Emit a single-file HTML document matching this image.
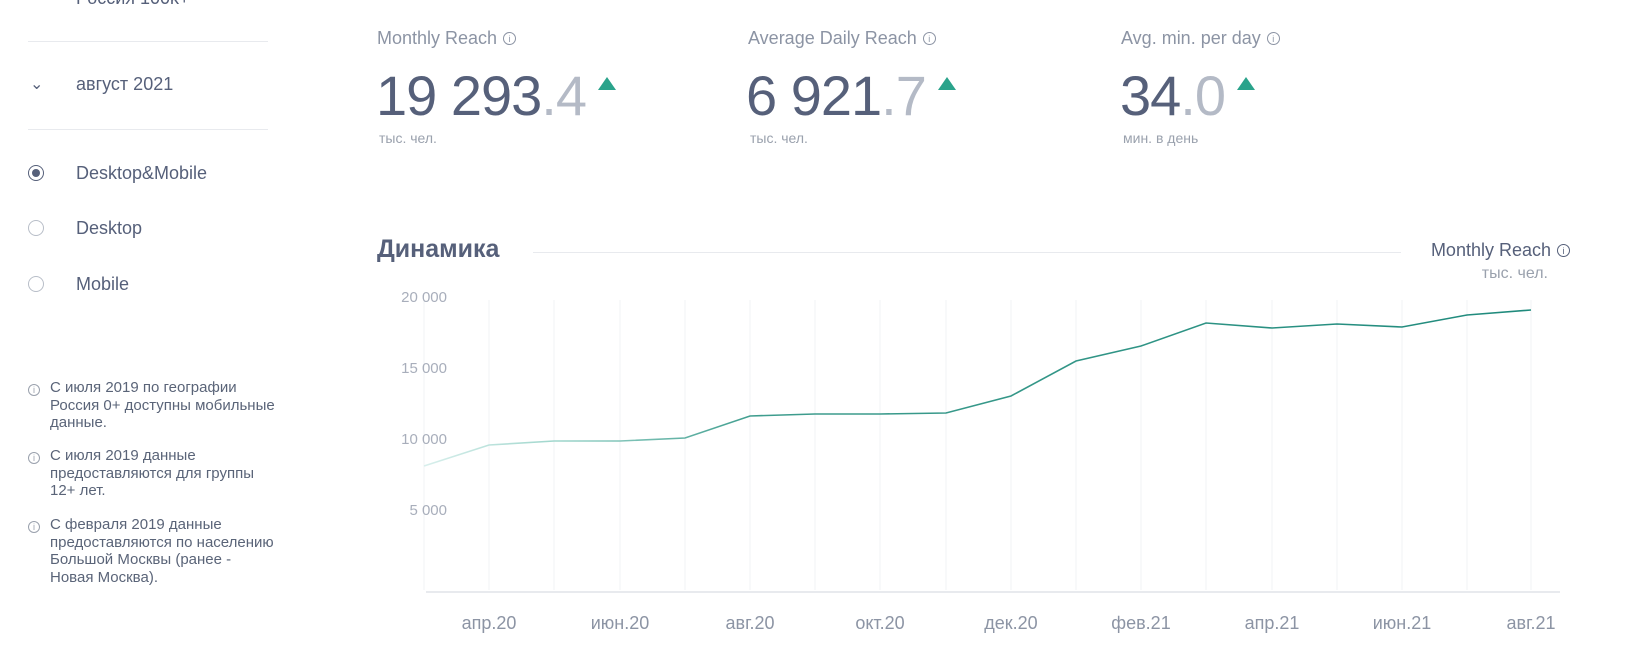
<!DOCTYPE html>
<html><head><meta charset="utf-8"><style>
body{margin:0;width:1630px;height:657px;background:#fff;font-family:"Liberation Sans",sans-serif;color:#5a6478;position:relative;overflow:hidden}
.a{position:absolute;white-space:nowrap}
.sep{position:absolute;left:28px;width:240px;height:1px;background:#e8eaee}
.rad{position:absolute;left:28px;width:16px;height:16px;border:1px solid #b8bec8;border-radius:50%;box-sizing:border-box}
.opt{font-size:18px;color:#56607a;left:76px}
.note{font-size:15px;line-height:17.5px;color:#5a6478;left:50px}
.ic{position:absolute;left:28px;width:12px;height:12px;border:1px solid #9aa1ad;border-radius:50%;box-sizing:border-box;font-size:9px;text-align:center;line-height:11px;color:#9aa1ad}
.lbl{font-size:18px;color:#8c94a4}
.big{font-size:56px;color:#56607a;letter-spacing:-1px}
.big span{color:#b4bac6}
.unit{font-size:14px;color:#9aa1ad}
.tri{display:inline-block;width:0;height:0;border-left:9px solid transparent;border-right:9px solid transparent;border-bottom:13px solid #2aa38b;vertical-align:top;margin-left:12px;margin-top:14px}
.ii{display:inline-block;width:13px;height:13px;border:1px solid #8c94a4;border-radius:50%;font-size:9px;line-height:13px;text-align:center;vertical-align:2px;margin-left:6px;box-sizing:border-box}
</style></head><body>
<div class="a" style="left:76px;top:-12px;font-size:18px;color:#56607a">Россия 100k+</div>
<div class="sep" style="top:41px"></div>
<div class="a" style="left:30px;top:74px;font-size:16px;color:#56607a">⌄</div>
<div class="a opt" style="top:74px">август 2021</div>
<div class="sep" style="top:129px"></div>
<div class="rad" style="top:165px;border:1px solid #56607a"><div style="position:absolute;left:3px;top:3px;width:8px;height:8px;border-radius:50%;background:#56607a"></div></div>
<div class="a opt" style="top:163px">Desktop&amp;Mobile</div>
<div class="rad" style="top:220px"></div>
<div class="a opt" style="top:218px">Desktop</div>
<div class="rad" style="top:276px"></div>
<div class="a opt" style="top:274px">Mobile</div>
<div class="ic" style="top:384px">i</div>
<div class="a note" style="top:379px">С июля 2019 по географии<br>Россия 0+ доступны мобильные<br>данные.</div>
<div class="ic" style="top:452px">i</div>
<div class="a note" style="top:447px">С июля 2019 данные<br>предоставляются для группы<br>12+ лет.</div>
<div class="ic" style="top:521px">i</div>
<div class="a note" style="top:516px">С февраля 2019 данные<br>предоставляются по населению<br>Большой Москвы (ранее -<br>Новая Москва).</div>

<div class="a lbl" style="left:377px;top:28px">Monthly Reach<span class="ii">i</span></div>
<div class="a big" style="left:376px;top:63px">19 293<span>.4</span><i class="tri"></i></div>
<div class="a unit" style="left:379px;top:130px">тыс. чел.</div>
<div class="a lbl" style="left:748px;top:28px">Average Daily Reach<span class="ii">i</span></div>
<div class="a big" style="left:746px;top:63px">6 921<span>.7</span><i class="tri"></i></div>
<div class="a unit" style="left:750px;top:130px">тыс. чел.</div>
<div class="a lbl" style="left:1121px;top:28px">Avg. min. per day<span class="ii">i</span></div>
<div class="a big" style="left:1120px;top:63px">34<span>.0</span><i class="tri"></i></div>
<div class="a unit" style="left:1123px;top:130px">мин. в день</div>

<div class="a" style="left:377px;top:235px;font-size:25px;font-weight:bold;color:#56607a">Динамика</div>
<div style="position:absolute;left:533px;top:252px;width:868px;height:1px;background:#e8eaee"></div>
<div class="a" style="right:60px;top:240px;font-size:18px;color:#56607a">Monthly Reach<span class="ii" style="border-color:#56607a">i</span></div>
<div class="a unit" style="right:82px;top:265px;font-size:16px">тыс. чел.</div>

<svg width="1630" height="657" style="position:absolute;left:0;top:0">
<defs><linearGradient id="g" x1="424" x2="1531" y1="0" y2="0" gradientUnits="userSpaceOnUse">
<stop offset="0" stop-color="#d8efec"/><stop offset="0.12" stop-color="#9fd6cc"/><stop offset="0.3" stop-color="#3f9d8e"/><stop offset="1" stop-color="#1f8a7c"/></linearGradient></defs>
<g stroke="#f2f3f5" stroke-width="1">
<line x1="424" y1="300" x2="424" y2="590"/><line x1="489" y1="300" x2="489" y2="590"/><line x1="554" y1="300" x2="554" y2="590"/><line x1="620" y1="300" x2="620" y2="590"/><line x1="685" y1="300" x2="685" y2="590"/><line x1="750" y1="300" x2="750" y2="590"/><line x1="815" y1="300" x2="815" y2="590"/><line x1="880" y1="300" x2="880" y2="590"/><line x1="946" y1="300" x2="946" y2="590"/><line x1="1011" y1="300" x2="1011" y2="590"/><line x1="1076" y1="300" x2="1076" y2="590"/><line x1="1141" y1="300" x2="1141" y2="590"/><line x1="1206" y1="300" x2="1206" y2="590"/><line x1="1272" y1="300" x2="1272" y2="590"/><line x1="1337" y1="300" x2="1337" y2="590"/><line x1="1402" y1="300" x2="1402" y2="590"/><line x1="1467" y1="300" x2="1467" y2="590"/><line x1="1531" y1="300" x2="1531" y2="590"/>
</g>
<line x1="426" y1="592" x2="1560" y2="592" stroke="#e8eaee" stroke-width="2"/>
<g font-family="Liberation Sans" font-size="15" fill="#a8aebb" text-anchor="end">
<text x="447" y="302">20 000</text><text x="447" y="373">15 000</text><text x="447" y="444">10 000</text><text x="447" y="515">5 000</text>
</g>
<polyline fill="none" stroke="url(#g)" stroke-width="1.6" points="424,466 489,445 554,441 620,441 685,438 750,416 815,414 880,414 946,413 1011,396 1076,361 1141,346 1206,323 1272,328 1337,324 1402,327 1467,315 1531,310"/>
<g font-family="Liberation Sans" font-size="18" fill="#8c94a4" text-anchor="middle">
<text x="489" y="629">апр.20</text><text x="620" y="629">июн.20</text><text x="750" y="629">авг.20</text><text x="880" y="629">окт.20</text><text x="1011" y="629">дек.20</text><text x="1141" y="629">фев.21</text><text x="1272" y="629">апр.21</text><text x="1402" y="629">июн.21</text><text x="1531" y="629">авг.21</text>
</g>
</svg>
</body></html>
